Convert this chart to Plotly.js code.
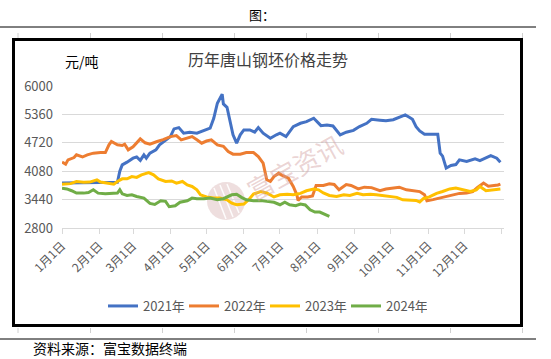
<!DOCTYPE html>
<html>
<head>
<meta charset="utf-8">
<script src="https://cdn.plot.ly/plotly-3.0.1.min.js"></script>
<style>html,body{margin:0;padding:0;background:#fff;}#chart{width:551px;height:359px;}</style>
</head>
<body>
<div id="chart"></div>
<script>
// ---- data (dates as MM-DD, prices in 元/吨) ----
const seriesNames = ["2021年", "2022年", "2023年", "2024年"];
const seriesColors = ["#4472C4", "#ED7D31", "#FFC000", "#70AD47"];

const dates2021 = ["01-01","01-21","02-10","02-16","02-18","02-20","02-24","03-01","03-04","03-07","03-10","03-12","03-15","03-20","03-23","03-27","04-01","04-04","04-08","04-12","04-17","04-23","04-29","05-04","05-07","05-10","05-14","05-15","05-18","05-21","05-23","05-26","05-29","06-01","06-06","06-10","06-13","06-17","06-23","06-28","07-01","07-06","07-12","07-18","07-23","07-29","08-04","08-09","08-14","08-20","08-25","08-31","09-05","09-11","09-15","09-22","09-27","10-03","10-08","10-13","10-16","10-19","10-22","10-25","10-29","11-02","11-09","11-11","11-13","11-16","11-20","11-24","11-27","12-03","12-10","12-14","12-19","12-23","12-28","12-31"];
const prices2021 = [3812,3820,3830,3830,4080,4223,4284,4374,4400,4324,4449,4374,4487,4560,4674,4763,4860,5033,5063,4936,4960,4936,4988,5049,5273,5611,5814,5595,5520,5123,4899,4711,4900,5011,5011,4960,5063,4936,4823,4900,4936,4860,5085,5160,5197,5273,5107,5120,5100,4899,4959,5000,5085,5160,5250,5230,5215,5240,5296,5348,5300,5250,5085,4988,4914,4914,4914,4487,4420,4149,4208,4230,4336,4300,4358,4320,4374,4433,4374,4284];

const dates2022 = ["01-01","01-04","01-06","01-11","01-13","01-18","01-22","01-27","02-02","02-06","02-09","02-11","02-16","02-20","02-22","02-25","03-01","03-07","03-11","03-15","03-21","03-26","04-01","04-06","04-10","04-15","04-19","04-23","04-27","05-01","05-05","05-10","05-15","05-19","05-23","05-29","06-03","06-09","06-13","06-17","06-20","06-23","06-26","06-30","07-02","07-08","07-12","07-15","07-16","07-19","07-24","07-28","07-31","08-06","08-11","08-15","08-19","08-25","08-29","09-04","09-09","09-15","09-22","09-27","10-03","10-08","10-14","10-19","10-25","10-29","10-31","11-05","11-11","11-16","11-22","11-27","12-03","12-08","12-12","12-17","12-21","12-25","12-29","12-31"];
const prices2022 = [4284,4239,4336,4388,4449,4400,4449,4487,4500,4500,4674,4749,4674,4660,4690,4561,4630,4808,4720,4690,4750,4790,4860,4883,4786,4830,4860,4790,4711,4760,4786,4674,4640,4524,4464,4464,4500,4500,4411,4261,3886,3850,3960,4036,3998,3923,3736,3548,3420,3500,3500,3520,3758,3760,3796,3780,3661,3780,3760,3680,3720,3710,3639,3680,3700,3720,3660,3639,3620,3548,3414,3440,3480,3500,3540,3580,3586,3620,3713,3812,3740,3750,3770,3790];

const dates2023 = ["01-01","01-08","01-13","01-19","01-24","01-30","02-02","02-07","02-13","02-16","02-20","02-24","02-28","03-04","03-08","03-14","03-18","03-22","03-28","04-02","04-06","04-11","04-15","04-19","04-23","04-26","05-01","05-07","05-12","05-18","05-22","05-26","06-01","06-05","06-09","06-15","06-20","06-26","07-01","07-07","07-12","07-18","07-23","07-29","08-02","08-06","08-11","08-17","08-23","08-28","09-03","09-08","09-14","09-19","09-25","09-30","10-06","10-11","10-17","10-22","10-25","10-28","11-02","11-08","11-13","11-19","11-24","11-30","12-06","12-11","12-14","12-19","12-25","12-31"];
const prices2023 = [3788,3800,3848,3830,3835,3886,3835,3820,3788,3848,3908,3908,3960,3940,3998,4050,3998,3908,3848,3860,3810,3848,3770,3736,3661,3548,3500,3474,3474,3436,3361,3324,3340,3436,3563,3623,3590,3500,3548,3560,3548,3580,3639,3676,3660,3590,3533,3510,3548,3533,3580,3548,3560,3548,3533,3505,3490,3436,3420,3420,3384,3460,3500,3580,3623,3680,3700,3660,3623,3660,3736,3640,3660,3680];

const dates2024 = ["01-01","01-05","01-09","01-13","01-19","01-23","01-27","01-31","02-06","02-12","02-16","02-18","02-20","02-24","02-28","03-04","03-10","03-15","03-19","03-24","03-28","03-31","04-05","04-09","04-15","04-19","04-23","04-29","05-04","05-10","05-15","05-22","05-26","05-30","06-03","06-09","06-15","06-20","06-26","07-01","07-05","07-09","07-14","07-18","07-22","07-26","07-30","08-03","08-07","08-11"];
const prices2024 = [3698,3680,3640,3586,3586,3600,3661,3586,3570,3570,3586,3661,3570,3533,3548,3510,3474,3354,3330,3414,3400,3279,3300,3380,3414,3474,3460,3460,3474,3436,3460,3548,3560,3490,3436,3414,3420,3400,3380,3324,3384,3324,3302,3340,3320,3211,3159,3159,3114,3061];

const tickDates = ["01-01","02-01","03-01","04-01","05-01","06-01","07-01","08-01","09-01","10-01","11-01","12-01"];
const tickLabels = ["1月1日","2月1日","3月1日","4月1日","5月1日","6月1日","7月1日","8月1日","9月1日","10月1日","11月1日","12月1日"];
const yTicks = [2800, 3440, 4080, 4720, 5360, 6000];

// ---- build chart ----
const BASE = "2021-";
const allDates = [dates2021, dates2022, dates2023, dates2024];
const allPrices = [prices2021, prices2022, prices2023, prices2024];
const FONT = '"Noto Sans CJK SC", "Noto Sans", sans-serif';

const traces = allDates.map((d, i) => ({
  type: "scatter", mode: "lines",
  name: seriesNames[i],
  x: d.map(s => BASE + s),
  y: allPrices[i],
  line: {color: seriesColors[i], width: 3},
  hoverinfo: "skip"
}));

// pixel -> paper helpers (plot area: x 62..504, y 86..228)
const L = 62, R = 47, T = 86, B = 131, W = 551 - L - R, H = 359 - T - B;
const px = v => (v - L) / W;
const py = v => (359 - B - v) / H;

const shapes = [];
// document lines
shapes.push({type:"line", xref:"paper", yref:"paper", x0:px(0), x1:px(536), y0:py(27), y1:py(27), line:{color:"#000", width:1}});
shapes.push({type:"line", xref:"paper", yref:"paper", x0:px(0), x1:px(536), y0:py(339), y1:py(339), line:{color:"#000", width:1}});
[18, 90.5, 162.5, 234.5, 306.5, 378.5, 450.5, 522.5].forEach(x => {
  shapes.push({type:"line", xref:"paper", yref:"paper", x0:px(x), x1:px(x), y0:py(33), y1:py(38), line:{color:"#d0d0d0", width:1}});
  shapes.push({type:"line", xref:"paper", yref:"paper", x0:px(x), x1:px(x), y0:py(328), y1:py(333), line:{color:"#d0d0d0", width:1}});
});
// frame
shapes.push({type:"rect", xref:"paper", yref:"paper", x0:px(13.5), x1:px(521.5), y0:py(39.5), y1:py(325.5), line:{color:"#000", width:3}, fillcolor:"rgba(0,0,0,0)"});
// watermark logo
shapes.push({type:"circle", xref:"paper", yref:"paper", layer:"below", x0:px(207), x1:px(245), y0:py(182), y1:py(220), line:{width:0}, fillcolor:"rgba(205,160,160,0.35)"});
[[214,188,226,219],[220,185,233,217],[227,184,239,213]].forEach(c => {
  shapes.push({type:"line", xref:"paper", yref:"paper", layer:"below", x0:px(c[0]), x1:px(c[2]), y0:py(c[1]), y1:py(c[3]), line:{color:"rgba(255,255,255,0.9)", width:1.5}});
});

const annotations = [
  {text:"图：", xref:"paper", yref:"paper", x:px(262), y:py(14), xanchor:"center", yanchor:"middle", showarrow:false, font:{family:FONT, size:13, color:"#000"}},
  {text:"历年唐山钢坯价格走势", xref:"paper", yref:"paper", x:px(268), y:py(59), xanchor:"center", yanchor:"middle", showarrow:false, font:{family:FONT, size:16, color:"#404040"}},
  {text:"元/吨", xref:"paper", yref:"paper", x:px(63), y:py(61), xanchor:"left", yanchor:"middle", showarrow:false, font:{family:FONT, size:14, color:"#000"}},
  {text:"资料来源：富宝数据终端", xref:"paper", yref:"paper", x:px(31), y:py(348), xanchor:"left", yanchor:"middle", showarrow:false, font:{family:FONT, size:14, color:"#000"}},
  {text:"富宝资讯", xref:"paper", yref:"paper", x:px(294), y:py(166), xanchor:"center", yanchor:"middle", showarrow:false, textangle:-29, font:{family:FONT, size:26, color:"rgba(210,160,160,0.45)"}}
];

const layout = {
  width: 551, height: 359,
  margin: {l:L, r:R, t:T, b:B, pad:0},
  paper_bgcolor: "#fff", plot_bgcolor: "rgba(0,0,0,0)",
  font: {family: FONT, size: 13, color: "#595959"},
  showlegend: true,
  legend: {orientation:"h", x:px(265), y:py(306), xanchor:"center", yanchor:"middle", font:{family:FONT, size:13, color:"#595959"}, itemwidth:30, entrywidth:36, tracegroupgap:0, bgcolor:"rgba(0,0,0,0)"},
  xaxis: {
    type:"date", range:["2021-01-01","2022-01-03"],
    tickmode:"array", tickvals: tickDates.map(s => BASE + s).concat(["2022-01-01"]), ticktext: tickLabels.concat([""]),
    tickangle:-45, ticks:"outside", ticklen:5, tickcolor:"#d9d9d9", tickwidth:1,
    showline:true, linecolor:"#d9d9d9", linewidth:1, showgrid:false, zeroline:false,
    tickfont:{family:FONT, size:12, color:"#595959"}, fixedrange:true
  },
  yaxis: {
    range:[2800, 6000], tickmode:"array", tickvals:yTicks, ticktext:yTicks.map(String),
    showgrid:true, gridcolor:"#d9d9d9", gridwidth:1, zeroline:false, showline:false, ticks:"",
    ticklabelstandoff:8, tickfont:{family:FONT, size:13, color:"#595959"}, fixedrange:true
  },
  shapes: shapes,
  annotations: annotations
};

Plotly.newPlot("chart", traces, layout, {displayModeBar:false, staticPlot:true});
</script>
</body>
</html>
